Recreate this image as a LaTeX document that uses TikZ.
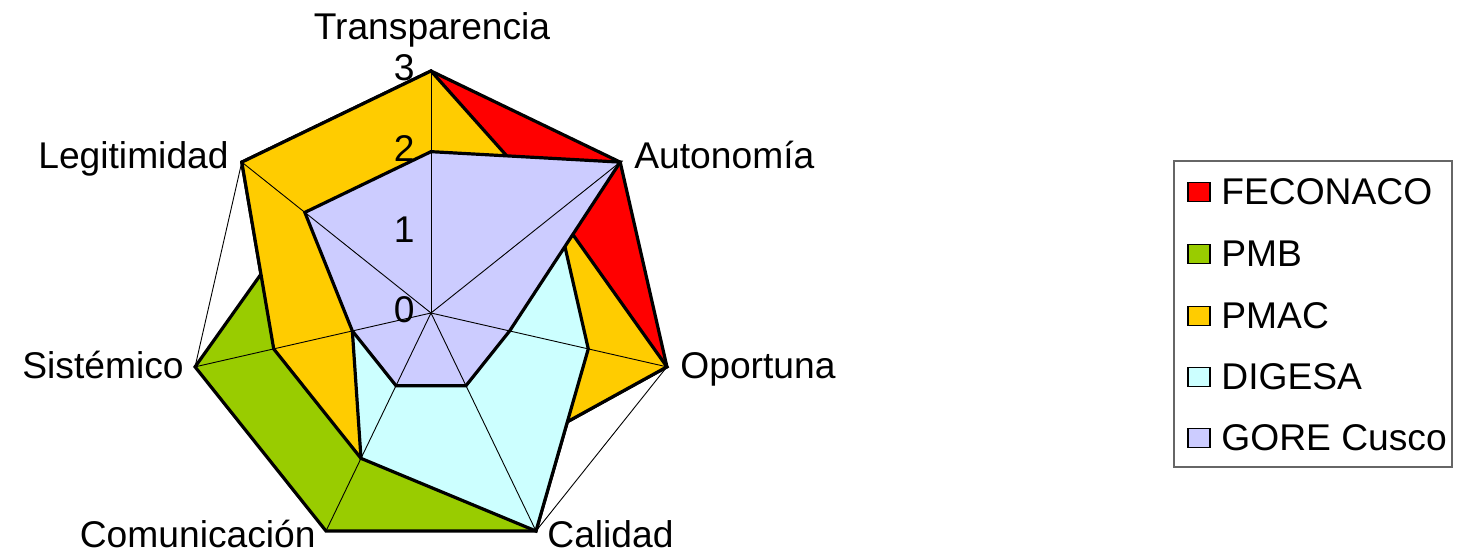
\documentclass[tikz,border=0pt]{standalone}
\usepackage{fontspec}
\setmainfont{Liberation Sans}
\definecolor{cRed}{HTML}{FF0000}
\definecolor{cGreen}{HTML}{99CC00}
\definecolor{cYellow}{HTML}{FFCC00}
\definecolor{cCyan}{HTML}{CCFFFF}
\definecolor{cLav}{HTML}{CCCCFF}
\newcommand{\Rr}{80.67}
\newcommand{\radarser}[8]{%
  \draw[serie, fill=#1] (90:#2*\Rr) -- (38.5714:#3*\Rr) -- (-12.8571:#4*\Rr) -- (-64.2857:#5*\Rr) -- (-115.7143:#6*\Rr) -- (-167.1429:#7*\Rr) -- (141.4286:#8*\Rr) -- cycle;}
\begin{document}
\begin{tikzpicture}[x=0.5pt,y=0.5pt,
  serie/.style={draw=black, line width=1.6pt, line join=miter},
  grid/.style={draw=black, line width=0.45pt},
  lbl/.style={inner sep=0pt, font=\fontsize{18.6}{22}\selectfont},
  legbox/.style={draw=black, line width=0.8pt, minimum width=11pt, minimum height=9.5pt, inner sep=0pt}]
\useasboundingbox (0,0) rectangle (1464,553);
\fill[white] (0,0) rectangle (1464,553);
\begin{scope}[shift={(431,240)}]
  % series
  \radarser{cRed}{3}{3}{3}{2}{2}{2}{3}
  \radarser{cGreen}{2}{2}{2}{3}{3}{3}{2}
  \radarser{cYellow}{3}{2}{3}{2}{2}{2}{3}
  \radarser{cCyan}{1}{2}{2}{3}{2}{1}{1}
  \radarser{cLav}{2}{3}{1}{1}{1}{1}{2}
  % grid
  \draw[grid] (90:3*\Rr) -- (38.5714:3*\Rr) -- (-12.8571:3*\Rr) -- (-64.2857:3*\Rr) -- (-115.7143:3*\Rr) -- (-167.1429:3*\Rr) -- (141.4286:3*\Rr) -- cycle;
  \foreach \a in {90,38.5714,-12.8571,-64.2857,-115.7143,-167.1429,141.4286}
    \draw[grid] (0,0) -- (\a:3*\Rr);
  % tick labels
  \foreach \v in {0,1,2,3}
    \node[lbl, anchor=east] (tick\v) at (-16,\v*\Rr+3) {\v};
\end{scope}
% axis labels
\node[lbl, anchor=base] (lT) at (432,513) {Transparencia};
\node[lbl, anchor=base west] (lA) at (634,385) {Autonomía};
\node[lbl, anchor=base west] (lO) at (680,175) {Oportuna};
\node[lbl, anchor=base west] (lC) at (547,6) {Calidad};
\node[lbl, anchor=base east] (lCo) at (316,6) {Comunicación};
\node[lbl, anchor=base east] (lS) at (184,175) {Sistémico};
\node[lbl, anchor=base east] (lL) at (229,385) {Legitimidad};
% legend
\draw[draw=black!60, line width=0.6pt] (1174,86) rectangle (1452,392);
\foreach \c/\t/\yy [count=\i] in {cRed/FECONACO/361, cGreen/PMB/299, cYellow/PMAC/237, cCyan/DIGESA/176, cLav/GORE Cusco/115}{
  \node[legbox, fill=\c] (lg\i) at (1199,\yy) {};
  \node[lbl, anchor=west] (lt\i) at (1221,\yy) {\t};
}
\end{tikzpicture}
\end{document}
